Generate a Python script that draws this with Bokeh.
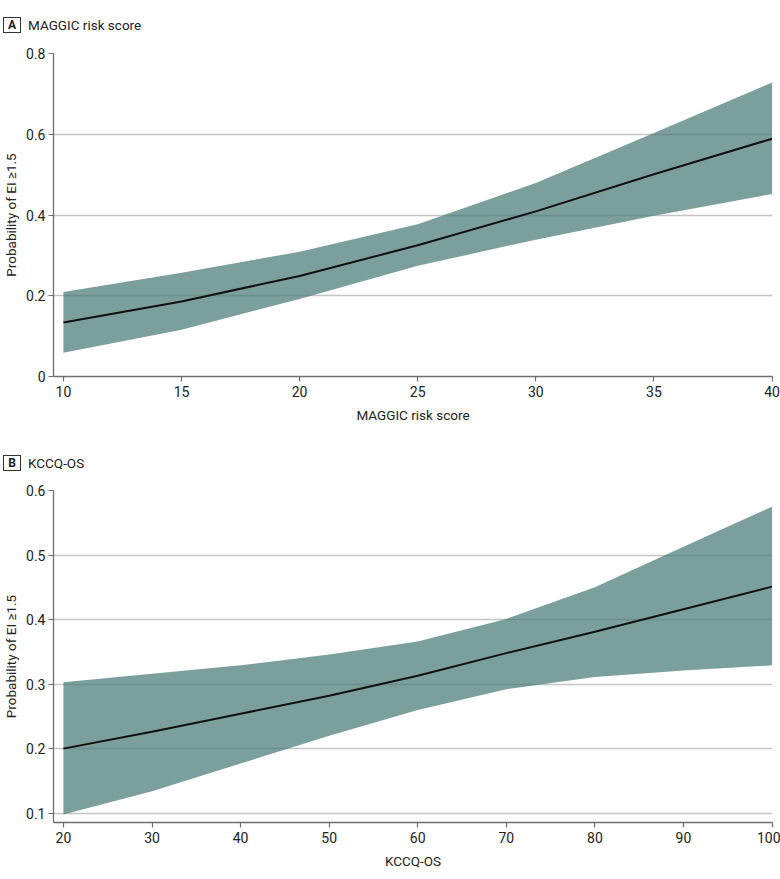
from bokeh.plotting import figure
from bokeh.layouts import column
from bokeh.models import FixedTicker, NumeralTickFormatter, Range1d, Div
from bokeh.embed import file_html
from bokeh.resources import INLINE

# Panel A: MAGGIC risk score
a_x = [10, 15, 20, 25, 30, 35, 40]
a_mid = [0.134, 0.186, 0.249, 0.325, 0.409, 0.501, 0.589]
a_hi = [0.209, 0.257, 0.309, 0.377, 0.479, 0.603, 0.728]
a_lo = [0.059, 0.116, 0.192, 0.274, 0.339, 0.398, 0.452]
a_xticks = [10, 15, 20, 25, 30, 35, 40]
a_yticks = [0, 0.2, 0.4, 0.6, 0.8]

# Panel B: KCCQ-OS
b_x = [20, 30, 40, 50, 60, 70, 80, 90, 100]
b_mid = [0.200, 0.226, 0.254, 0.282, 0.313, 0.348, 0.381, 0.416, 0.451]
b_hi = [0.303, 0.316, 0.329, 0.346, 0.366, 0.401, 0.450, 0.513, 0.575]
b_lo = [0.098, 0.134, 0.177, 0.220, 0.260, 0.292, 0.311, 0.321, 0.329]
b_xticks = [20, 30, 40, 50, 60, 70, 80, 90, 100]
b_yticks = [0.1, 0.2, 0.3, 0.4, 0.5, 0.6]

FONT = "Roboto"
TXT = "#222222"
AX = "#6e6e6e"


def header(letter, title, box_top, text_top):
    html = (
        '<div style="position:relative;width:780px;height:40px;'
        'font-family:Roboto,sans-serif;color:#222222;">'
        '<div style="position:absolute;left:3px;top:%dpx;width:18px;height:16px;'
        'box-sizing:border-box;border:1px solid #333333;font-weight:bold;'
        'font-size:12px;line-height:14px;text-align:center;">%s</div>'
        '<div style="position:absolute;left:28px;top:%dpx;font-size:13.5px;'
        'line-height:17px;white-space:nowrap;">%s</div>'
        '</div>'
    ) % (box_top, letter, text_top, title)
    return Div(text=html, width=780, height=40, margin=(0, 0, 0, 0))


def panel(xs, mid, hi, lo, xticks, yticks, xr, yr, height, top, bottom, xlabel):
    p = figure(width=780, height=height, output_backend="svg", toolbar_location=None,
               x_range=Range1d(*xr), y_range=Range1d(*yr),
               min_border_left=49, min_border_right=8,
               min_border_top=top, min_border_bottom=bottom, margin=(0, 0, 0, 0))
    p.outline_line_color = None
    p.background_fill_color = "white"
    p.border_fill_color = "white"
    p.xgrid.grid_line_color = None
    p.ygrid.grid_line_color = "#c4c4c4"
    p.ygrid.grid_line_width = 1.5
    p.ygrid.ticker = FixedTicker(ticks=yticks)

    p.varea(x=xs, y1=lo, y2=hi, fill_color="#4a7b77", fill_alpha=0.73)
    p.line(xs, mid, line_color="#111111", line_width=2)

    for ax in (p.xaxis[0], p.yaxis[0]):
        ax.axis_line_color = AX
        ax.axis_line_width = 1.3
        ax.major_tick_line_color = AX
        ax.major_tick_line_width = 1.2
        ax.major_tick_out = 5
        ax.major_tick_in = 0
        ax.minor_tick_line_color = None
        ax.major_label_text_font = FONT
        ax.major_label_text_font_size = "14px"
        ax.major_label_text_color = TXT
        ax.axis_label_text_font = FONT
        ax.axis_label_text_font_size = "13.5px"
        ax.axis_label_text_font_style = "normal"
        ax.axis_label_text_color = TXT

    p.xaxis.ticker = FixedTicker(ticks=xticks)
    p.yaxis.ticker = FixedTicker(ticks=yticks)
    p.yaxis.formatter = NumeralTickFormatter(format="0.[0]")
    p.xaxis.axis_label = xlabel
    p.yaxis.axis_label = "Probability of EI \u22651.5"
    p.yaxis.major_label_standoff = 3
    p.yaxis.axis_label_standoff = 4
    p.xaxis.major_label_standoff = 4
    p.xaxis.axis_label_standoff = 7
    return p


ha = header("A", "MAGGIC risk score", 17, 17)
pa = panel(a_x, a_mid, a_hi, a_lo, a_xticks, a_yticks,
           (9.58, 40.02), (0, 0.8), 400, 13, 64, "MAGGIC risk score")
hb = header("B", "KCCQ-OS", 15, 15)
pb = panel(b_x, b_mid, b_hi, b_lo, b_xticks, b_yticks,
           (18.88, 100.05), (0.0855, 0.6), 399, 10, 57, "KCCQ-OS")

layout = column(ha, pa, hb, pb, spacing=0)
open("out.html", "w").write(file_html(layout, INLINE))
